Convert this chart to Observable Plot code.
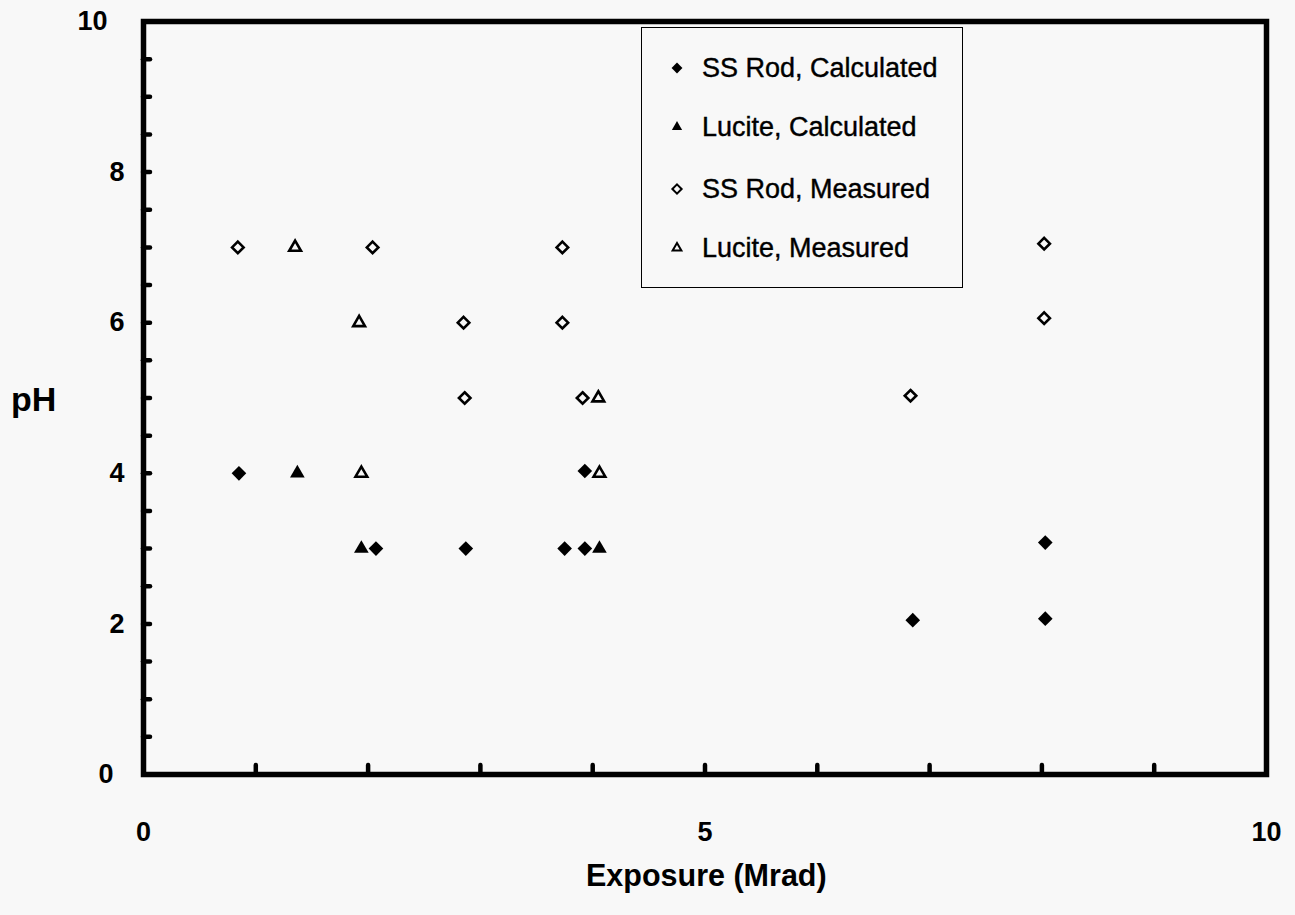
<!DOCTYPE html>
<html>
<head>
<meta charset="utf-8">
<script src="https://cdn.jsdelivr.net/npm/d3@7"></script>
<script src="https://cdn.jsdelivr.net/npm/@observablehq/plot@0.6"></script>
<style>
  html, body { margin: 0; padding: 0; background: #f8f8f8; }
  #wrap { position: relative; width: 1295px; height: 915px; font-family: "Liberation Sans", Arial, Helvetica, sans-serif; color: #000; }
  #wrap svg.plot { position: absolute; left: 0; top: 0; }
  #wrap svg.plot g[aria-label="y-axis tick"] path,
  #wrap svg.plot g[aria-label="x-axis tick"] path { stroke-width: 4.5px; stroke-linecap: round; }
  #wrap svg.plot g.ticklab text { font-size: 27px; font-weight: bold; }
  .lab { position: absolute; font-weight: bold; white-space: nowrap; line-height: 1; }
  #legend { position: absolute; left: 641px; top: 27px; width: 322px; height: 261px; border: 1.6px solid #000; box-sizing: border-box; background: #f8f8f8; }
  .row { position: absolute; left: 0; height: 30px; display: flex; align-items: center; font-size: 27px; white-space: nowrap; -webkit-text-stroke: 0.4px #000; }
  .row svg { width: 22px; height: 22px; margin-left: 24px; margin-right: 14px; }
</style>
</head>
<body>
<div id="wrap"></div>
<script>
// ---- data ----
const seriesNames = ["SS Rod, Calculated", "Lucite, Calculated", "SS Rod, Measured", "Lucite, Measured"];

const ssCalcX = [0.85, 2.07, 2.87, 3.75, 3.93, 3.93, 6.85, 8.03, 8.03];
const ssCalcY = [4.0, 3.0, 3.0, 3.0, 3.0, 4.03, 2.05, 3.08, 2.07];

const lucCalcX = [1.37, 1.94, 4.06];
const lucCalcY = [4.0, 3.0, 3.0];

const ssMeasX = [0.84, 2.04, 2.85, 2.86, 3.73, 3.73, 3.91, 6.83, 8.02, 8.02];
const ssMeasY = [7.0, 7.0, 6.0, 5.0, 7.0, 6.0, 5.0, 5.03, 7.05, 6.06];

const lucMeasX = [1.35, 1.92, 1.94, 4.05, 4.06];
const lucMeasY = [7.0, 6.0, 4.0, 5.0, 4.0];

const xLabelTicks = [0, 5, 10];
const xMinorTicks = [1, 2, 3, 4, 5, 6, 7, 8, 9];
const yLabelTicks = [0, 2, 4, 6, 8, 10];
const yMinorTicks = d3.range(1, 20).map(d => d / 2);

const xTitle = "Exposure (Mrad)";
const yTitle = "pH";

const toRows = (xs, ys) => xs.map((x, i) => ({x, y: ys[i]}));
const ssCalc = toRows(ssCalcX, ssCalcY);
const lucCalc = toRows(lucCalcX, lucCalcY);
const ssMeas = toRows(ssMeasX, ssMeasY);
const lucMeas = toRows(lucMeasX, lucMeasY);

const font = "Liberation Sans, Arial, Helvetica, sans-serif";

// in the original, single-digit inner labels sit closer to the axis than 0 and 10
const yInner = yLabelTicks.filter(d => d > 0 && d < 10);
const yZero = yLabelTicks.filter(d => d === 0);
const yTop = yLabelTicks.filter(d => d === 10);
const labelStyle = {tickSize: 0, tickFormat: d3.format("d"), label: null, fontSize: 27, fontWeight: "bold", className: "ticklab"};

const chart = Plot.plot({
  width: 1295,
  height: 915,
  marginLeft: 143,
  marginRight: 29,
  marginTop: 21,
  marginBottom: 141,
  style: {background: "transparent", fontFamily: font, color: "#000"},
  x: {domain: [0, 10]},
  y: {domain: [0, 10]},
  marks: [
    // minor inward ticks
    Plot.axisY({ticks: yMinorTicks, tickSize: 7, dx: 7, tickFormat: () => "", label: null, strokeWidth: 4.5, strokeLinecap: "round"}),
    Plot.axisX({ticks: xMinorTicks, tickSize: 9, dy: -9, tickFormat: () => "", label: null, strokeWidth: 4.5, strokeLinecap: "round"}),
    // labels
    Plot.axisY({...labelStyle, ticks: yInner, tickPadding: 19}),
    Plot.axisY({...labelStyle, ticks: yZero, tickPadding: 30}),
    Plot.axisY({...labelStyle, ticks: yTop, tickPadding: 36}),
    Plot.axisX({...labelStyle, ticks: xLabelTicks, tickPadding: 47}),
    Plot.frame({stroke: "#000", strokeWidth: 5.5}),
    Plot.dot(ssMeas, {x: "x", y: "y", symbol: "diamond2", r: 5.2, stroke: "#000", strokeWidth: 2.6, fill: "none"}),
    Plot.dot(lucMeas, {x: "x", y: "y", symbol: "triangle2", r: 5.6, stroke: "#000", strokeWidth: 2.6, fill: "none"}),
    Plot.dot(ssCalc, {x: "x", y: "y", symbol: "diamond2", r: 6.6, fill: "#000", stroke: "none"}),
    Plot.dot(lucCalc, {x: "x", y: "y", symbol: "triangle2", r: 7.0, fill: "#000", stroke: "none"})
  ]
});
chart.classList.add("plot");

const wrap = document.getElementById("wrap");
wrap.appendChild(chart);
chart.querySelectorAll('g[aria-label="y-axis tick label"], g[aria-label="x-axis tick label"]').forEach(g => g.classList.add("ticklab"));

// axis titles
const yt = document.createElement("div");
yt.className = "lab";
yt.textContent = yTitle;
yt.style.cssText += "left:11px;top:382px;font-size:34px;";
wrap.appendChild(yt);

const xt = document.createElement("div");
xt.className = "lab";
xt.textContent = xTitle;
xt.style.cssText += "left:586px;top:860px;font-size:30.5px;";
wrap.appendChild(xt);

// legend
const legend = document.createElement("div");
legend.id = "legend";
wrap.appendChild(legend);
const legendSym = [
  {type: d3.symbolDiamond2, filled: true, size: 75},
  {type: d3.symbolTriangle2, filled: true, size: 75},
  {type: d3.symbolDiamond2, filled: false, size: 55},
  {type: d3.symbolTriangle2, filled: false, size: 55}
];
const rowTops = [25, 84, 146, 205];
seriesNames.forEach((name, i) => {
  const row = document.createElement("div");
  row.className = "row";
  row.style.top = rowTops[i] + "px";
  const s = legendSym[i];
  const path = d3.symbol(s.type, s.size)();
  row.innerHTML = `<svg viewBox="-11 -11 22 22"><path d="${path}" fill="${s.filled ? "#000" : "none"}" stroke="${s.filled ? "none" : "#000"}" stroke-width="${s.filled ? 0 : 2}"></path></svg><span>${name}</span>`;
  legend.appendChild(row);
});
</script>
</body>
</html>
